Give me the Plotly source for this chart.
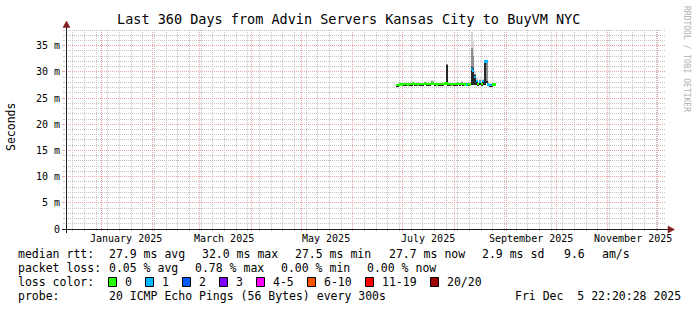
import numpy as np
import pandas as pd
import plotly.graph_objects as go

# ---------------- data ----------------
title_text = "Last 360 Days from Advin Servers Kansas City to BuyVM NYC"
end_time = pd.Timestamp("2025-12-05 22:20:28")
span_days = 360

day_start = "2025-06-27"
median_ms = [27.5, 27.5, 27.6, 27.6, 27.7, 27.7, 27.7, 27.6, 27.7, 27.7,
             27.8, 27.7, 27.7, 27.6, 27.7, 27.7, 27.7, 27.8, 27.7, 27.7,
             27.7, 27.8, 27.7, 27.7, 27.6, 27.7, 27.7, 27.7, 27.7, 27.8,
             27.8, 27.7, 27.7, 27.6, 27.7, 27.7, 27.7, 27.8, 27.7, 27.7,
             27.7, 27.6, 27.6, 27.7, 27.6, 30.6, 30.2, 29.1, 28.2, 27.7,
             28.1, 27.7, 28.2, 32.0, 32.0, 27.6, 27.5, 27.5, 27.6, 27.6]
loss_count = [0, 0, 0, 0, 0, 0, 0, 0, 0, 0,
              0, 0, 0, 0, 0, 0, 0, 0, 0, 0,
              0, 0, 0, 0, 0, 0, 0, 0, 0, 0,
              0, 0, 0, 0, 0, 0, 0, 0, 0, 0,
              0, 0, 1, 0, 0, 1, 1, 1, 1, 0,
              1, 0, 1, 1, 1, 1, 1, 1, 0, 0]
smoke_lo = [27.3, 27.3, 27.4, 27.4, 27.5, 27.5, 27.5, 27.4, 27.5, 27.5,
            27.6, 27.5, 27.5, 27.4, 27.5, 27.5, 27.5, 27.6, 27.5, 27.5,
            27.5, 27.6, 27.5, 27.5, 27.4, 27.5, 27.5, 27.5, 27.5, 27.6,
            27.6, 27.5, 27.5, 27.4, 27.5, 27.5, 27.5, 27.6, 27.5, 27.5,
            27.5, 27.4, 27.4, 27.5, 27.4, 27.5, 27.6, 27.6, 27.6, 27.5,
            27.6, 27.5, 27.6, 27.6, 27.8, 27.4, 27.3, 27.3, 27.4, 27.4]
smoke_hi = [27.7, 27.7, 27.8, 27.8, 27.9, 27.9, 27.9, 27.8, 27.9, 27.9,
            28.0, 27.9, 27.9, 27.8, 27.9, 27.9, 27.9, 28.0, 27.9, 27.9,
            27.9, 28.4, 28.3, 27.9, 27.8, 27.9, 27.9, 27.9, 27.9, 28.0,
            31.6, 27.9, 27.9, 27.8, 27.9, 27.9, 27.9, 28.0, 27.9, 28.3,
            27.9, 27.8, 27.8, 27.9, 27.8, 37.7, 36.0, 30.0, 28.8, 27.9,
            28.6, 27.9, 28.6, 32.3, 32.3, 27.8, 27.7, 27.7, 27.8, 27.8]
mid_hi = [27.6, 27.6, 27.7, 27.7, 27.8, 27.8, 27.8, 27.7, 27.8, 27.8,
          27.9, 27.8, 27.8, 27.7, 27.8, 27.8, 27.8, 27.9, 27.8, 27.8,
          27.8, 28.2, 28.0, 27.8, 27.7, 27.8, 27.8, 27.8, 27.8, 27.9,
          31.5, 27.8, 27.8, 27.7, 27.8, 27.8, 27.8, 27.9, 27.8, 28.1,
          27.8, 27.7, 27.7, 27.8, 27.7, 34.5, 33.0, 29.6, 28.5, 27.8,
          28.4, 27.8, 28.4, 32.2, 32.2, 27.7, 27.6, 27.6, 27.7, 27.7]
core_hi = [27.5, 27.5, 27.6, 27.6, 27.7, 27.7, 27.7, 27.6, 27.7, 27.7,
           27.8, 27.7, 27.7, 27.6, 27.7, 27.7, 27.7, 27.8, 27.7, 27.7,
           27.7, 28.1, 27.9, 27.7, 27.6, 27.7, 27.7, 27.7, 27.7, 27.8,
           31.4, 27.7, 27.7, 27.6, 27.7, 27.7, 27.7, 27.8, 27.7, 27.9,
           27.7, 27.6, 27.6, 27.7, 27.6, 31.0, 30.8, 29.4, 28.4, 27.7,
           28.3, 27.7, 28.3, 32.2, 28.2, 27.6, 27.5, 27.5, 27.6, 27.6]

y_max_ms = 38.2
y_tick_vals = [0, 5, 10, 15, 20, 25, 30, 35]
y_tick_text = ["0", "5 m", "10 m", "15 m", "20 m", "25 m", "30 m", "35 m"]
month_label_dates = ["2025-01-16", "2025-03-16", "2025-05-16",
                     "2025-07-16", "2025-09-16", "2025-11-16"]
month_labels = ["January 2025", "March 2025", "May 2025",
                "July 2025", "September 2025", "November 2025"]

loss_names = ["0", "1", "2", "3", "4-5", "6-10", "11-19", "20/20"]
loss_colors = ["#26ff00", "#00b8ff", "#0059ff", "#7e00ff",
               "#ff00ff", "#ff5500", "#ff0000", "#a10000"]
loss_upper = [0, 1, 2, 3, 5, 10, 19, 20]

rtt_stat_values = [27.9, 32.0, 27.5, 27.7, 2.9]
rtt_stat_names = ["avg", "max", "min", "now", "sd"]
am_s_value = 9.6
loss_stat_values = [0.05, 0.78, 0.00, 0.00]
loss_stat_names = ["avg", "max", "min", "now"]
probe_text = "20 ICMP Echo Pings (56 Bytes) every 300s"
stamp_text = "Fri Dec  5 22:20:28 2025"
watermark = "RRDTOOL / TOBI OETIKER"

# ---------------- layout constants ----------------
W, H = 697, 310
PL, PR, PT, PB = 66, 666, 29, 229
MONO = "DejaVu Sans Mono"
MAJ = "#f0a0a0"
MIN = "#c4c4c4"
AXC = "#1f1f1f"
ARC = "#801f1f"
DAY_MS = 86400000


def px(x):
    return (x - PL) / (PR - PL)


def py(y):
    return (PB - y) / (PB - PT)


def nb(s):
    return s.replace(" ", "\u00a0")


start_time = end_time - pd.Timedelta(days=span_days)
dates = pd.date_range(day_start, periods=len(median_ms), freq="D")
centers = dates + pd.Timedelta(hours=12)

med = np.array(median_ms)
lo = np.array(smoke_lo)
cat = [next(k for k, u in enumerate(loss_upper) if c <= u) for c in loss_count]
band_colors = [loss_colors[k] for k in cat]

# minor (1 ms) grid positions that are not on a major (5 ms) line
minor_y = [v for v in range(int(y_max_ms) + 1) if v % 5]

fig = go.Figure()
fig.add_trace(go.Scatter(x=[start_time, end_time], y=[0, 0], mode="lines",
                         line=dict(width=0), opacity=0, hoverinfo="skip",
                         xaxis="x", yaxis="y2"))
for hi, col in [(smoke_hi, "#d4d4d4"), (mid_hi, "#8e8e8e"), (core_hi, "#262626")]:
    hi = np.array(hi)
    fig.add_trace(go.Bar(x=centers, y=hi - lo, base=lo, width=DAY_MS,
                         marker=dict(color=col, line=dict(width=0)),
                         hoverinfo="skip", xaxis="x", yaxis="y"))
fig.add_trace(go.Bar(x=centers, y=[0.4] * len(med), base=med - 0.2, width=DAY_MS,
                     marker=dict(color=band_colors, line=dict(width=0)),
                     hoverinfo="skip", xaxis="x", yaxis="y"))

ann = []
shapes = []


def text(x, y, s, size=11.5, anchor="left", color="black", angle=0, xref="paper"):
    ann.append(dict(x=x if xref != "paper" else px(x), y=py(y), xref=xref, yref="paper",
                    text=nb(s), showarrow=False, xanchor=anchor, yanchor="middle",
                    textangle=angle,
                    font=dict(family=MONO, size=size, color=color)))


# vertical grid (weekly minor on Sundays, monthly major), snapped to pixel columns
span = (end_time - start_time)


def grid_col(d):
    return int(np.floor(PL + (d - start_time) / span * (PR - PL)))


month_starts = [d for d in pd.date_range("2024-12-01", end_time, freq="MS") if d > start_time]
month_cols = {grid_col(d) for d in month_starts}
week_starts = [d for d in pd.date_range("2024-12-15", end_time, freq="7D") if d > start_time]
for d in week_starts:
    c = grid_col(d)
    if c in month_cols or c >= PR:
        continue
    shapes.append(dict(type="line", xref="paper", yref="paper",
                       x0=px(c + 0.5), x1=px(c + 0.5), y0=py(231), y1=1,
                       line=dict(color=MIN, width=1, dash="1px,1px"), layer="below"))
for c in sorted(month_cols):
    if c >= PR:
        continue
    shapes.append(dict(type="line", xref="paper", yref="paper",
                       x0=px(c + 0.5), x1=px(c + 0.5), y0=py(231), y1=1,
                       line=dict(color=MAJ, width=1, dash="1px,1px"), layer="below"))

# title, watermark, y title
text(348.5, 19, title_text, size=13.5, anchor="center")
text(687, 59, watermark, size=8, anchor="center", color="#b0b0b0", angle=90)
text(11, 127, "Seconds", size=11.5, anchor="center", angle=-90)

# month labels (data x coordinates)
for d, lab in zip(month_label_dates, month_labels):
    text(d, 238, lab, size=10, anchor="center", xref="x")

# legend rows
row_y = [254, 268, 282, 296]
text(16, row_y[0], "median rtt:")
for xpos, v, n in zip([107, 200, 293, 387, 480], rtt_stat_values, rtt_stat_names):
    text(xpos, row_y[0], f"{v:.1f} ms {n}")
text(562, row_y[0], f"{am_s_value:.1f}")
text(600, row_y[0], "am/s")

text(16, row_y[1], "packet loss:")
for xpos, v, n in zip([107, 193, 279, 365], loss_stat_values, loss_stat_names):
    text(xpos, row_y[1], f"{v:.2f} % {n}")

text(16, row_y[2], "loss color:")
box_x = [108.5, 145.5, 182.5, 219.5, 256.5, 307.5, 365.5, 430.5]
lab_x = [123, 160, 197, 234, 271, 322, 380, 445]
for bx, lx, name, col in zip(box_x, lab_x, loss_names, loss_colors):
    shapes.append(dict(type="rect", xref="paper", yref="paper",
                       x0=px(bx), x1=px(bx + 8), y0=py(286.5), y1=py(277.5),
                       fillcolor=col, line=dict(color="black", width=1), layer="above"))
    text(lx, row_y[2], name)

text(16, row_y[3], "probe:")
text(107, row_y[3], probe_text)
text(513, row_y[3], stamp_text)

# axes lines and arrows
shapes.append(dict(type="line", xref="paper", yref="paper", x0=px(62), x1=px(669),
                   y0=py(229.5), y1=py(229.5), line=dict(color=AXC, width=1), layer="above"))
shapes.append(dict(type="line", xref="paper", yref="paper", x0=px(66.5), x1=px(66.5),
                   y0=py(233), y1=py(26), line=dict(color=AXC, width=1), layer="above"))
ax = [(674.5, 229.5), (668, 226), (668, 233)]
shapes.append(dict(type="path", xref="paper", yref="paper",
                   path="M {} {} L {} {} L {} {} Z".format(*[v for p in ax for v in (px(p[0]), py(p[1]))]),
                   fillcolor=ARC, line=dict(color=ARC, width=0.5), layer="above"))
ay = [(66.5, 21), (63, 27.5), (70, 27.5)]
shapes.append(dict(type="path", xref="paper", yref="paper",
                   path="M {} {} L {} {} L {} {} Z".format(*[v for p in ay for v in (px(p[0]), py(p[1]))]),
                   fillcolor=ARC, line=dict(color=ARC, width=0.5), layer="above"))

fig.update_layout(
    width=W, height=H,
    margin=dict(l=PL, r=W - PR, t=PT, b=H - PB, pad=0),
    paper_bgcolor="white", plot_bgcolor="rgba(0,0,0,0)",
    showlegend=False, barmode="overlay", bargap=0,
    font=dict(family=MONO, color="black"),
    annotations=ann, shapes=shapes,
    xaxis=dict(type="date", range=[start_time, end_time], fixedrange=True,
               showgrid=False, showticklabels=False, ticks="",
               showline=False, zeroline=False),
    # major (5 ms) grid with labels
    yaxis=dict(range=[0, y_max_ms], fixedrange=True,
               tickmode="array", tickvals=y_tick_vals, ticktext=y_tick_text,
               showgrid=True, gridcolor=MAJ, griddash="1px,1px", gridwidth=1,
               ticks="outside", ticklen=3, tickcolor=MAJ,
               tickfont=dict(family=MONO, size=10, color="black"),
               showline=False, zeroline=False),
    # minor (1 ms) grid
    yaxis2=dict(range=[0, y_max_ms], fixedrange=True, overlaying="y", side="left",
                tickmode="array", tickvals=minor_y, showticklabels=False,
                showgrid=True, gridcolor=MIN, griddash="1px,1px", gridwidth=1,
                ticks="outside", ticklen=2, tickcolor=MIN,
                showline=False, zeroline=False),
)

fig.write_html("out.html")
